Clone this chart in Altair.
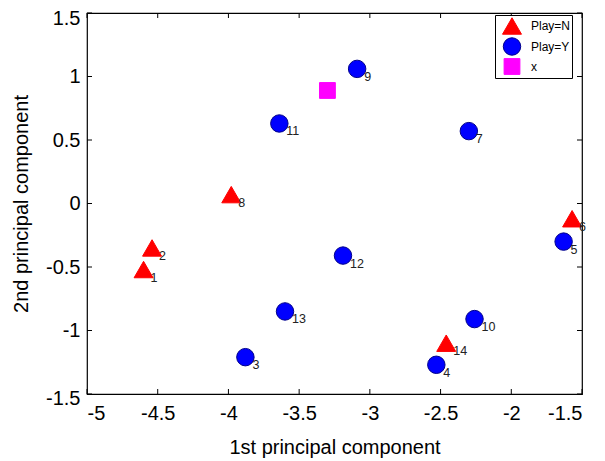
import altair as alt
import pandas as pd

ids = [1, 2, 3, 4, 5, 6, 7, 8, 9, 10, 11, 12, 13, 14]
pc1 = [-4.60, -4.54, -3.88, -2.53, -1.63, -1.57, -2.30, -3.98, -3.09, -2.26, -3.64, -3.19, -3.60, -2.46]
pc2 = [-0.52, -0.35, -1.21, -1.27, -0.30, -0.12, 0.57, 0.07, 1.06, -0.91, 0.63, -0.41, -0.85, -1.10]
play = ["N", "N", "Y", "Y", "Y", "N", "Y", "N", "Y", "Y", "Y", "Y", "Y", "N"]
query_pc1 = [-3.30]
query_pc2 = [0.89]

x_ticks = [-5, -4.5, -4, -3.5, -3, -2.5, -2, -1.5]
y_ticks = [-1.5, -1, -0.5, 0, 0.5, 1, 1.5]

W, H = 495, 381
FONT = "Liberation Sans"

cls = ["Play=" + p for p in play] + ["x"]
pts = pd.DataFrame({
    "pc1": pc1 + query_pc1,
    "pc2": pc2 + query_pc2,
    "cls": cls,
    "sz": cls,
    "lab": [str(i) for i in ids] + [""],
})
labs = pts[pts["lab"] != ""]

xs = alt.Scale(domain=[-5, -1.5], nice=False, zero=False)
ys = alt.Scale(domain=[-1.5, 1.5], nice=False, zero=False)

x_axis = alt.Axis(values=x_ticks, labelExpr="datum.value", grid=False, ticks=False,
                  domain=False, labelPadding=9, titlePadding=14)
y_axis = alt.Axis(values=y_ticks, labelExpr="datum.value", grid=False, ticks=False,
                  domain=False, labelPadding=7, titlePadding=14,
                  labelOffset={"condition": [{"test": "datum.value == 1.5", "value": 5},
                                             {"test": "datum.value == -1.5", "value": 4}],
                               "value": 0})
XT = "1st principal component"
YT = "2nd principal component"

domain = ["Play=N", "Play=Y", "x"]
leg = alt.Legend(title=None, labelExpr="datum.label + '       '")

points = alt.Chart(pts).mark_point(filled=True, opacity=1, strokeWidth=1).encode(
    x=alt.X("pc1:Q", scale=xs, title=XT, axis=x_axis),
    y=alt.Y("pc2:Q", scale=ys, title=YT, axis=y_axis),
    color=alt.Color("cls:N", scale=alt.Scale(domain=domain, range=["#ff0000", "#0000ff", "#ff00ff"]),
                    legend=leg),
    shape=alt.Shape("cls:N", scale=alt.Scale(domain=domain, range=["triangle-up", "circle", "square"]),
                    legend=leg),
    stroke=alt.Stroke("cls:N", scale=alt.Scale(domain=domain, range=["#ff0000", "#00008b", "#ff00ff"]),
                      legend=None),
    size=alt.Size("sz:N", scale=alt.Scale(domain=domain, range=[360, 250, 280]), legend=None),
)

texts = alt.Chart(labs).mark_text(align="left", baseline="middle", dx=7, dy=8, fontSize=12.5,
                                  font=FONT, color="#222").encode(
    x=alt.X("pc1:Q", scale=xs, title=XT, axis=x_axis),
    y=alt.Y("pc2:Q", scale=ys, title=YT, axis=y_axis),
    text="lab:N",
)

xt = pd.DataFrame({"t": x_ticks})
yt = pd.DataFrame({"t": y_ticks})
rule_style = dict(color="black", strokeWidth=1)
xb = alt.Chart(xt).mark_rule(**rule_style).encode(
    x=alt.X("t:Q", scale=xs, title=XT, axis=x_axis), y=alt.value(H), y2=alt.value(H - 5))
xtop = alt.Chart(xt).mark_rule(**rule_style).encode(
    x=alt.X("t:Q", scale=xs, title=XT, axis=x_axis), y=alt.value(0), y2=alt.value(5))
yl = alt.Chart(yt).mark_rule(**rule_style).encode(
    y=alt.Y("t:Q", scale=ys, title=YT, axis=y_axis), x=alt.value(0), x2=alt.value(5))
yr = alt.Chart(yt).mark_rule(**rule_style).encode(
    y=alt.Y("t:Q", scale=ys, title=YT, axis=y_axis), x=alt.value(W), x2=alt.value(W - 5))

chart = alt.layer(points, texts, xb, xtop, yl, yr).properties(
    width=W, height=H,
    autosize=alt.AutoSizeParams(type="none"),
    padding={"left": 79, "top": 5, "right": 10, "bottom": 64},
).configure_view(
    stroke="black", strokeWidth=1.2
).configure_axis(
    labelFont=FONT, titleFont=FONT, labelFontSize=20, titleFontSize=20,
    labelColor="black", titleColor="black", titleFontWeight="normal",
).configure_legend(
    orient="none", legendX=408, legendY=2, strokeColor="black", fillColor="white",
    padding=1, labelFontSize=12, labelFont=FONT, labelColor="black", symbolSize=260,
    rowPadding=-3, symbolOpacity=1, labelOffset=9, symbolStrokeWidth=1, symbolOffset=6,
)

chart.save("out.html", embed_options={"renderer": "svg", "actions": False})
